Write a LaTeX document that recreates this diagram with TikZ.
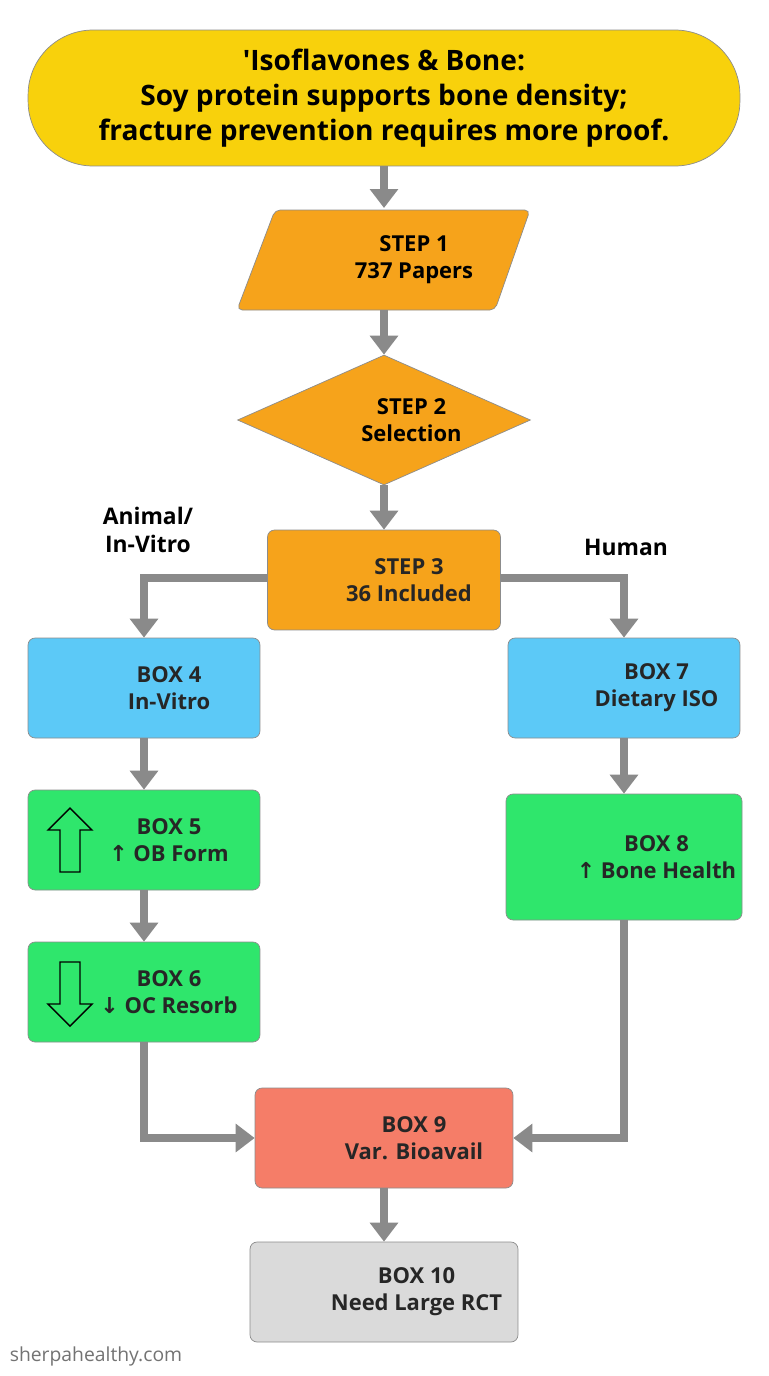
\documentclass[tikz,border=0pt]{standalone}
\usepackage{fontspec}
\setmainfont{Open Sans}
\newfontfamily\symf{DejaVu Sans}
\usetikzlibrary{positioning,shapes.geometric,arrows.meta}
\definecolor{titleYel}{HTML}{F8D10C}
\definecolor{stepOr}{HTML}{F6A31B}
\definecolor{boxBlue}{HTML}{5CC9F7}
\definecolor{boxGreen}{HTML}{2FE66C}
\definecolor{boxRed}{HTML}{F57D68}
\definecolor{boxGray}{HTML}{DADADA}
\definecolor{flowGray}{HTML}{8A8A8A}
\newcommand{\upA}{{\symf\char"2191}}
\newcommand{\dnA}{{\symf\char"2193}}
\tikzset{
  box/.style = {draw=black!45, rounded corners=4pt, minimum width=4.64cm, minimum height=2cm,
                font=\fontsize{12.5}{15.5}\selectfont\bfseries, align=center, text=black!85},
  flow/.style = {draw=flowGray, line width=5pt, -{Triangle[width=0.55cm,length=0.38cm]}},
  side/.style = {font=\fontsize{13}{16}\selectfont\bfseries, align=center}
}
\begin{document}
\begin{tikzpicture}[x=0.02cm,y=-0.02cm]
  \useasboundingbox (0,0) rectangle (768,1376);
  \fill[white] (0,0) rectangle (768,1376);
  % title
  \node[draw=black!45, fill=titleYel, rounded corners=1.3cm, minimum width=14.24cm, minimum height=2.72cm,
        font=\fontsize{16}{20}\selectfont\bfseries, align=center] (title) at (384,98)
        {\textquotesingle Isoflavones \& Bone:\\Soy protein supports bone density;\\fracture prevention requires more proof.};
  % steps
  \filldraw[draw=black!45, fill=stepOr, rounded corners=3pt] (275,210) -- (530,210) -- (495,310) -- (237,310) -- cycle;
  \node[font=\fontsize{12.5}{15.5}\selectfont\bfseries, align=center, minimum width=5.86cm, minimum height=2cm]
        (step1) at (384,260) {\hspace{1.2cm}STEP 1\\\hspace{1.2cm}737 Papers};
  \node[draw=black!45, fill=stepOr, diamond, aspect=2.3, minimum width=5.86cm, minimum height=2.6cm,
        inner sep=0pt, font=\fontsize{12.5}{15.5}\selectfont\bfseries, align=center]
        (step2) at (384,420) {\hspace{1.1cm}STEP 2\\\hspace{1.1cm}Selection};
  \node[box, fill=stepOr, minimum width=4.66cm] (step3) at (384,580) {\hspace{1cm}STEP 3\\\hspace{1cm}36 Included};
  \node[side] (lblA) at (148,530) {Animal/\\In-Vitro};
  \node[side] (lblH) at (626,547) {Human};
  % left branch
  \node[box, fill=boxBlue] (box4) at (144,688) {\hspace{1cm}BOX 4\\\hspace{1cm}In-Vitro};
  \node[box, fill=boxGreen] (box5) at (144,840) {\hspace{1cm}BOX 5\\\hspace{1cm}\upA\ OB Form};
  \node[box, fill=boxGreen] (box6) at (144,992) {\hspace{1cm}BOX 6\\\hspace{1cm}\dnA\ OC Resorb};
  % right branch
  \node[box, fill=boxBlue] (box7) at (624,688) {\hspace{1.3cm}BOX 7\\\hspace{1.3cm}Dietary ISO};
  \node[box, fill=boxGreen, minimum height=2.52cm] (box8) at (624,857) {\hspace{1.3cm}BOX 8\\\hspace{1.3cm}\upA\ Bone Health};
  % merge
  \node[box, fill=boxRed, minimum width=5.16cm] (box9) at (384,1138) {\hspace{1.2cm}BOX 9\\\hspace{1.2cm}Var. Bioavail};
  \node[box, fill=boxGray, minimum width=5.36cm] (box10) at (384,1292) {\hspace{1.3cm}BOX 10\\\hspace{1.3cm}Need Large RCT};
  % icons in boxes 5 and 6
  \draw[line width=0.8pt] (70,808) -- (48,830) -- (60,830) -- (60,872) -- (80,872) -- (80,830) -- (92,830) -- cycle;
  \draw[line width=0.8pt] (70,1026) -- (48,1004) -- (60,1004) -- (60,962) -- (80,962) -- (80,1004) -- (92,1004) -- cycle;
  % connectors
  \draw[flow] (title) -- (384,208);
  \draw[flow] (384,310) -- (step2);
  \draw[flow] (step2) -- (step3);
  \draw[flow] (step3.west |- 0,578) -| (box4.north);
  \draw[flow] (step3.east |- 0,578) -| (box7.north);
  \draw[flow] (box4) -- (box5);
  \draw[flow] (box5) -- (box6);
  \draw[flow] (box7) -- (box8);
  \draw[flow] (box6.south) |- (box9.west);
  \draw[flow] (box8.south) |- (box9.east);
  \draw[flow] (box9) -- (box10);
  \node[text=black!55, font=\fontsize{11}{13}\selectfont] (site) at (96,1356) {sherpahealthy.com};
\end{tikzpicture}
\end{document}
